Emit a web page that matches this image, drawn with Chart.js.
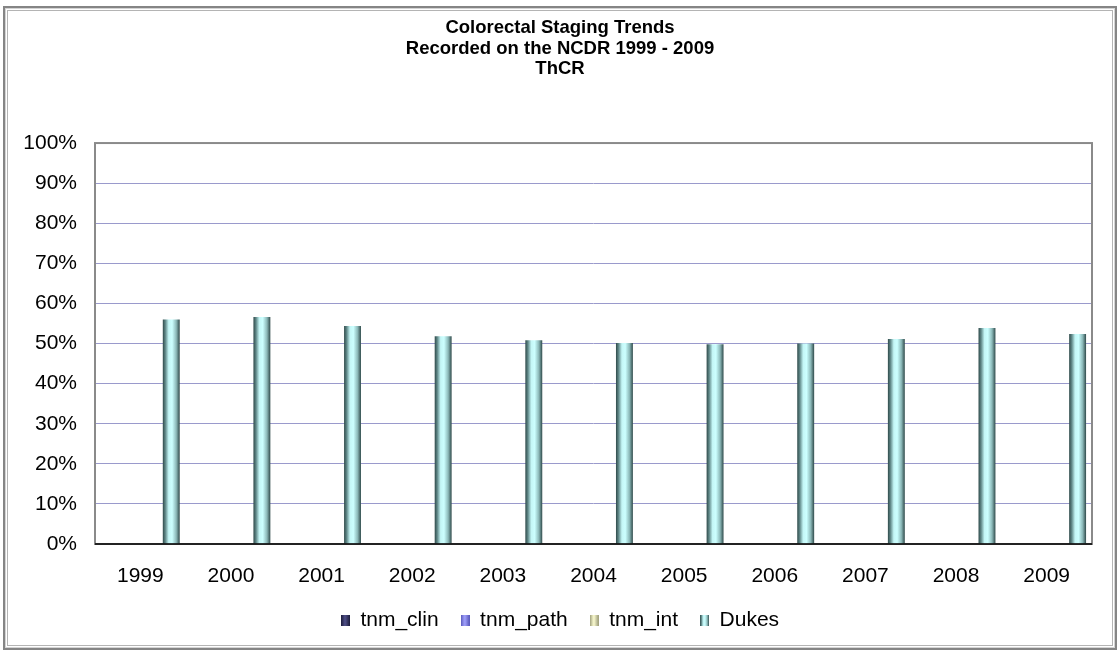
<!DOCTYPE html>
<html>
<head>
<meta charset="utf-8">
<title>Colorectal Staging Trends</title>
<script src="https://cdn.jsdelivr.net/npm/chart.js@4.4.1/dist/chart.umd.min.js"></script>
<style>
  html, body { margin: 0; padding: 0; background: #fff; }
  #wrap { position: relative; width: 1120px; height: 653px; }
  #frame {
    position: absolute; left: 3px; top: 6px; width: 1110px; height: 640px;
    border: 2px solid #858585;
    box-shadow: inset 0 0 0 1px #d4d4d4, inset 0 0 0 2px #fff, inset 0 0 0 3px #b4b4b4;
    pointer-events: none;
  }
</style>
</head>
<body>
<div id="wrap">
  <canvas id="chart" width="1120" height="653"></canvas>
  <div id="frame"></div>
</div>
<script>
// staging share per year, percent of cases
const years = ['1999', '2000', '2001', '2002', '2003', '2004', '2005', '2006', '2007', '2008', '2009'];
const tnmClin = [0, 0, 0, 0, 0, 0, 0, 0, 0, 0, 0];
const tnmPath = [0, 0, 0, 0, 0, 0, 0, 0, 0, 0, 0];
const tnmInt = [0, 0, 0, 0, 0, 0, 0, 0, 0, 0, 0];
const dukes = [56.0, 56.6, 54.4, 51.8, 50.8, 50.1, 49.8, 50.0, 51.1, 53.9, 52.4];

const FONT = '"Liberation Sans", Arial, sans-serif';

const shades = {
  clin: [[0, '#1c1c3a'], [0.45, '#50508a'], [1, '#1c1c3a']],
  path: [[0, '#5656b8'], [0.45, '#a4a4ff'], [1, '#5656b8']],
  int: [[0, '#9a9a78'], [0.45, '#ffffd4'], [1, '#9a9a78']],
  dukes: [[0, '#2f4a4a'], [0.15, '#5f8787'], [0.35, '#c4f6f6'],
          [0.55, '#ccffff'], [0.8, '#8bb8b8'], [1, '#2f4a4a']]
};

// horizontal shading so each bar looks like a cylinder
function cylinder(stops, flat) {
  return (ctx) => {
    const el = ctx.element;
    if (!el || !isFinite(el.x) || !el.width) return flat;
    const g = ctx.chart.ctx.createLinearGradient(el.x - el.width / 2, 0, el.x + el.width / 2, 0);
    stops.forEach(([o, c]) => g.addColorStop(o, c));
    return g;
  };
}

// small shaded swatch for the legend
function swatch(stops) {
  const c = document.createElement('canvas');
  c.width = 9; c.height = 11;
  const x = c.getContext('2d');
  const g = x.createLinearGradient(0, 0, 9, 0);
  stops.forEach(([o, col]) => g.addColorStop(o, col));
  x.fillStyle = g;
  x.fillRect(0, 0, 9, 11);
  return c;
}
const swatches = [swatch(shades.clin), swatch(shades.path), swatch(shades.int), swatch(shades.dukes)];

const plotFrame = {
  id: 'plotFrame',
  beforeDatasetsDraw(chart) {
    const { ctx, chartArea: a } = chart;
    ctx.save();
    ctx.strokeStyle = '#8a8a8a';
    ctx.lineWidth = 2;
    ctx.strokeRect(a.left, a.top, a.right - a.left, a.bottom - a.top);
    ctx.restore();
  },
  afterDatasetsDraw(chart) {
    const { ctx, chartArea: a } = chart;
    ctx.save();
    ctx.strokeStyle = '#000';
    ctx.lineWidth = 1.5;
    ctx.beginPath();
    ctx.moveTo(a.left, a.bottom);
    ctx.lineTo(a.right, a.bottom);
    ctx.stroke();
    ctx.restore();
  }
};

const chart = new Chart(document.getElementById('chart'), {
  type: 'bar',
  data: {
    labels: years,
    datasets: [
      { label: 'tnm_clin', data: tnmClin, backgroundColor: cylinder(shades.clin, '#3d3d6b') },
      { label: 'tnm_path', data: tnmPath, backgroundColor: cylinder(shades.path, '#7f7fe8') },
      { label: 'tnm_int', data: tnmInt, backgroundColor: cylinder(shades.int, '#e0e0a8') },
      { label: 'Dukes', data: dukes, backgroundColor: cylinder(shades.dukes, '#a8e4e4') }
    ]
  },
  options: {
    responsive: false,
    animation: false,
    categoryPercentage: 0.91,
    barPercentage: 0.82,
    layout: { padding: { left: 0, right: 0, top: 8, bottom: 12 } },
    plugins: {
      title: {
        display: true,
        text: ['Colorectal Staging Trends', 'Recorded on the NCDR 1999 - 2009', 'ThCR'],
        color: '#000',
        font: { family: FONT, size: 18.5, weight: 'bold', lineHeight: 1.1 },
        padding: { top: 10, bottom: 64 }
      },
      legend: {
        position: 'bottom',
        labels: {
          color: '#000',
          font: { family: FONT, size: 21 },
          boxWidth: 9,
          boxHeight: 11,
          usePointStyle: true,
          padding: 22,
          generateLabels(chart) {
            return Chart.defaults.plugins.legend.labels.generateLabels(chart).map((item, i) => {
              item.pointStyle = swatches[i];
              return item;
            });
          }
        }
      },
      tooltip: { enabled: false }
    },
    scales: {
      x: {
        grid: { display: false, drawTicks: false },
        border: { display: false },
        ticks: { color: '#000', font: { family: FONT, size: 21 }, padding: 20, maxRotation: 0 },
        afterFit: (s) => { s.height = 44; }
      },
      y: {
        min: 0,
        max: 100,
        grid: { color: '#9a9acc', lineWidth: 1, drawTicks: false },
        border: { display: false },
        ticks: {
          stepSize: 10,
          color: '#000',
          font: { family: FONT, size: 21 },
          padding: 18,
          callback: (v) => v + '%'
        },
        afterFit: (s) => { s.width = 95; }
      },
      // empty strip on the right, keeps the plot off the border
      yRight: {
        type: 'linear',
        position: 'right',
        grid: { display: false, drawTicks: false },
        border: { display: false },
        ticks: { display: false },
        afterFit: (s) => { s.width = 28; }
      }
    }
  },
  plugins: [plotFrame]
});

// second pass so the shading can read each bar's position
chart.update();
</script>
</body>
</html>
